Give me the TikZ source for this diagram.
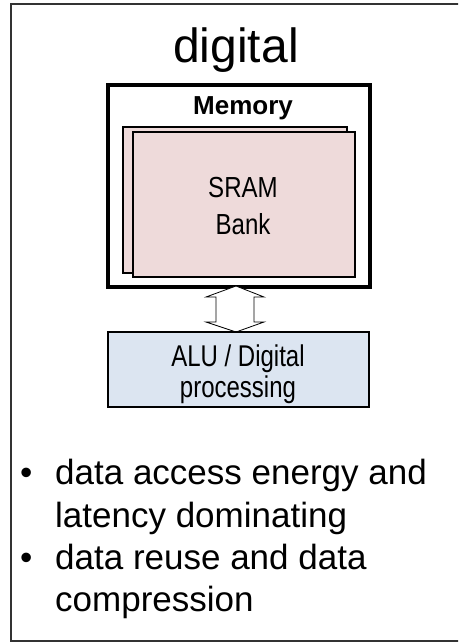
\documentclass[tikz,border=0pt]{standalone}
\usepackage{fontspec}
\setmainfont{Liberation Sans}
\usepackage{xcolor}
\definecolor{srampink}{HTML}{EEDADA}
\definecolor{alublue}{HTML}{DCE5F1}
\newcommand{\narrow}[2]{\scalebox{#1}[1]{#2}}

\begin{document}
\begin{tikzpicture}[x=1pt, y=-1pt,
    bank/.style={draw, line width=1.2pt, fill=srampink},
    txt/.style={inner sep=0pt, anchor=base},
    bullet/.style={inner sep=0pt, anchor=base west, font=\fontsize{35}{42}\selectfont}]
    \clip (0,0) rectangle (458,644);
    %\draw[help lines, step=50] (0,0) grid (458,644);
    % outer frame, cut off on the right
    \draw[line width=2pt, black!80] (470,4.5) -- (10.5,4.5) -- (10.5,641) -- (470,641);
    \node[txt, font=\fontsize{48}{50}\selectfont] (title) at (236,63) {digital};

    % memory with two stacked banks
    \draw[line width=3.5pt] (108,85) rectangle (370,287);
    \node[txt, font=\fontsize{26}{28}\bfseries] (memory) at (243,115) {Memory};
    \draw[bank] (123,127) rectangle (347,273);
    \draw[bank] (133,132) rectangle (355,277);
    \node[txt, font=\fontsize{29}{32}\selectfont] (sram) at (243,198) {\narrow{0.83}{SRAM}};
    \node[txt, font=\fontsize{29}{32}\selectfont] (bankname) at (243,234) {\narrow{0.83}{Bank}};

    % hollow double arrow
    \draw[line width=0.8pt, fill=white] (236,286)
                        -- (264,297)
                        -- (254,297)
                        -- (254,322)
                        -- (264,322)
                        -- (236,332)
                        -- (206,322)
                        -- (216,322)
                        -- (216,297)
                        -- (206,297)
                        -- cycle;

    % processing unit
    \draw[line width=1.2pt, fill=alublue] (108,332) rectangle (369,407);
    \node[txt, font=\fontsize{30}{32}\selectfont] (alu) at (238,366) {\narrow{0.8}{ALU / Digital}};
    \node[txt, font=\fontsize{30}{32}\selectfont] (proc) at (238,397) {\narrow{0.8}{processing}};

    % bullet list
    \node[bullet] (dot1) at (20,484) {•};
    \node[bullet] (line1) at (55,484) {data access energy and};
    \node[bullet] (line2) at (55,527) {latency dominating};
    \node[bullet] (dot2) at (20,569) {•};
    \node[bullet] (line3) at (55,569) {data reuse and data};
    \node[bullet] (line4) at (55,611) {compression};
\end{tikzpicture}
\end{document}
